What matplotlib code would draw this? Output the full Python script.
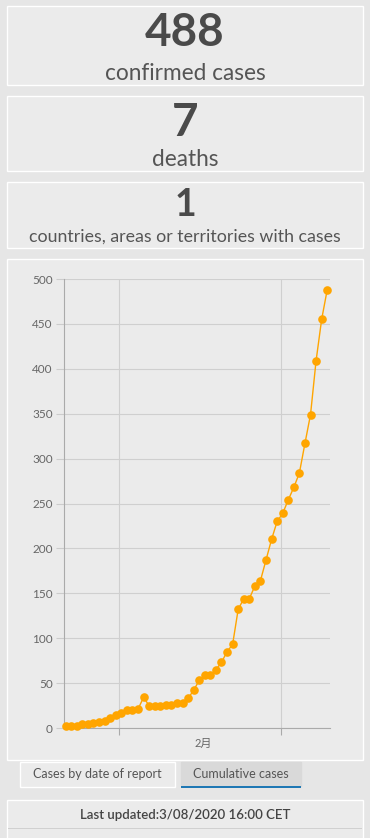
import matplotlib
matplotlib.use("Agg")
import matplotlib.pyplot as plt
from matplotlib.patches import Rectangle
import pandas as pd

W, H = 370, 838
PAGE = "#e6e6e6"
BOX = "#ebebeb"
DARK = "#4a4a4a"
ORANGE = "#ffa500"

# summary numbers
confirmed = "488"
deaths = "7"
countries = "1"
labels = ["confirmed cases", "deaths", "countries, areas or territories with cases"]

# cumulative confirmed cases, one per day
dates = pd.date_range("2020-01-22 08:00", periods=48, freq="D")
cases = [2, 2, 2, 4, 5, 6, 7, 8, 11, 15, 17, 20, 20, 21, 34, 25, 25, 25, 26, 26,
         28, 28, 33, 42, 53, 59, 59, 65, 73, 85, 93, 132, 144, 144, 158, 164, 187, 210, 230, 239,
         254, 268, 284, 317, 349, 409, 455, 488]
month_label = "2月"
tabs = ["Cases by date of report", "Cumulative cases"]
updated = "Last updated:3/08/2020 16:00 CET"

plt.rcParams["font.family"] = ["Lato", "Noto Sans CJK JP", "DejaVu Sans"]

fig = plt.figure(figsize=(W / 100, H / 100), dpi=100)
fig.patch.set_facecolor(PAGE)


def fx(x):
    return x / W


def fy(y):
    return 1 - y / H


def box(x0, y0, x1, y1, fc=BOX, ec="white", lw=1.0):
    fig.add_artist(Rectangle((fx(x0), fy(y1)), fx(x1 - x0), (y1 - y0) / H,
                             transform=fig.transFigure, facecolor=fc, edgecolor=ec, lw=lw,
                             zorder=-5))


# summary cards
box(7, 6, 363, 85)
fig.text(0.5, fy(33), confirmed, ha="center", va="center", fontsize=33, fontweight="bold", color=DARK)
fig.text(0.5, fy(73), labels[0], ha="center", va="center", fontsize=16.3, color="#555555")
box(7, 96, 363, 171)
fig.text(0.5, fy(123), deaths, ha="center", va="center", fontsize=33, fontweight="bold", color=DARK)
fig.text(0.5, fy(159), labels[1], ha="center", va="center", fontsize=16.3, color="#555555")
box(7, 182, 363, 248)
fig.text(0.5, fy(205), countries, ha="center", va="center", fontsize=27, fontweight="bold", color=DARK)
fig.text(0.5, fy(237), labels[2], ha="center", va="center", fontsize=12.8, color="#555555")

# chart card
box(7, 259, 363, 760)
ax = fig.add_axes([fx(64), fy(728), fx(330 - 64), (728 - 279) / H])
ax.set_zorder(5)
ax.set_facecolor(BOX)
ax.plot(dates, cases, color=ORANGE, lw=1.0, marker="o", markersize=6.2,
        markeredgewidth=0, clip_on=False, zorder=3)
ax.set_ylim(0, 500)
ax.set_yticks(range(0, 501, 50))
ax.set_xlim(pd.Timestamp("2020-01-22 01:00"), pd.Timestamp("2020-03-09 20:00"))
ax.set_xticks([pd.Timestamp("2020-02-01"), pd.Timestamp("2020-03-01")])
ax.set_xticklabels(["", ""])
ax.set_xticks([pd.Timestamp("2020-02-16")], minor=True)
ax.set_xticklabels([month_label], minor=True)
ax.tick_params(axis="x", which="minor", length=0, pad=7, labelsize=8, labelcolor="#666666")
ax.tick_params(axis="x", which="major", length=5, color="#aaaaaa")
ax.tick_params(axis="y", length=6, color="#cccccc", labelsize=8.5, labelcolor="#666666", pad=2)
ax.grid(True, which="major", color="#cfcfcf", lw=0.8)
for s in ["top", "right"]:
    ax.spines[s].set_visible(False)
ax.spines["left"].set_color("#aaaaaa")
ax.spines["bottom"].set_color("#aaaaaa")

# tabs
box(20, 762, 175, 787, fc=BOX)
fig.text(fx(97.5), fy(774), tabs[0], ha="center", va="center", fontsize=9, color="#555555")
box(181, 762, 301, 786, fc="#d9d9d9", ec="#d9d9d9")
fig.add_artist(Rectangle((fx(181), fy(788)), fx(120), 2 / H, transform=fig.transFigure,
                         facecolor="#1f78b4", edgecolor="none"))
fig.text(fx(241), fy(774), tabs[1], ha="center", va="center", fontsize=9, color="#555555")

# last updated
box(7, 800, 363, 845)
fig.add_artist(Rectangle((fx(8), fy(829)), fx(354), 1 / H, transform=fig.transFigure,
                         facecolor="#d0d0d0", edgecolor="none"))
fig.text(0.5, fy(815), updated, ha="center", va="center", fontsize=9.5, fontweight="semibold",
         color="#444444")

fig.savefig("out.png", dpi=100, facecolor=PAGE)
